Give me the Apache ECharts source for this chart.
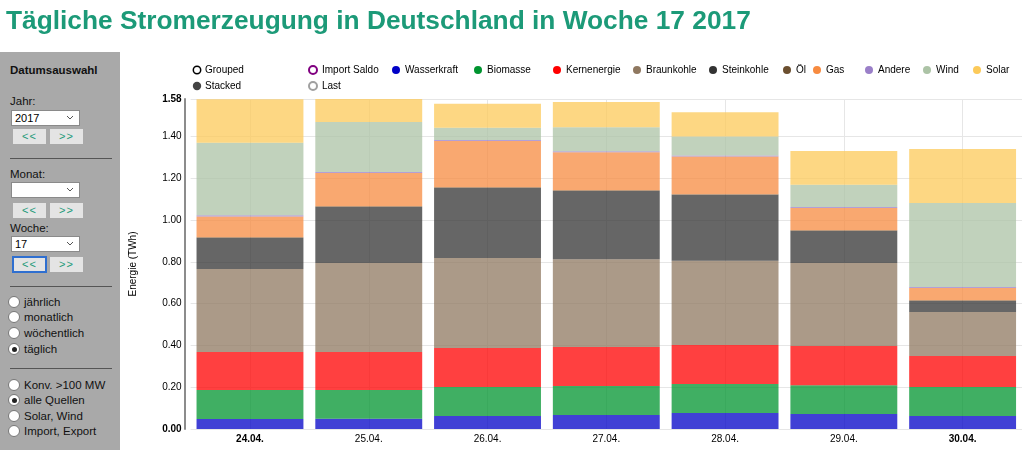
<!DOCTYPE html>
<html><head><meta charset="utf-8">
<script src="https://cdn.jsdelivr.net/npm/echarts@6/dist/echarts.min.js"></script>
<style>
html,body{margin:0;padding:0;width:1024px;height:450px;overflow:hidden;background:#fff;font-family:"Liberation Sans",Arial,sans-serif;}
#chart{position:absolute;left:0;top:0;width:1024px;height:450px;}
#title{position:absolute;left:6px;top:7px;font-size:26.3px;line-height:26px;font-weight:bold;color:#1c9a78;white-space:nowrap;z-index:2}
#panel{position:absolute;left:0;top:52px;width:120px;height:398px;background:#a9a9a9;z-index:2;font-size:11.5px;color:#111;}
.t{position:absolute;left:10px;line-height:14px;white-space:nowrap}
.sel{position:absolute;left:11px;width:64px;height:14px;background:#fff;border:1px solid #8a8a8a;font-size:11px;line-height:14px;padding-left:3px;color:#000}
.sel svg{position:absolute;right:5px;top:4px}
.btn{position:absolute;width:33px;height:15px;background:#e4e4e4;color:#1c9a78;font-size:11px;line-height:15px;text-align:center;letter-spacing:1px}
.btn.focus{border:2px solid #2f6fd0;width:31px;height:13px;line-height:13px;background:#e4e4e4}
.hr{position:absolute;left:10px;width:102px;height:1px;background:#555}
.radio{position:absolute;left:8px;width:10px;height:10px;border-radius:50%;background:#fff;border:1px solid #777}
.radio.on::after{content:"";position:absolute;left:2.5px;top:2.5px;width:5px;height:5px;border-radius:50%;background:#222}
.rl{position:absolute;left:24px;line-height:14px;font-size:11.5px;white-space:nowrap}
</style>
</head>
<body>
<div id="chart"></div>
<div id="title">Tägliche Stromerzeugung in Deutschland in Woche 17 2017</div>
<div id="panel">
  <div class="t" style="top:11px;font-weight:bold">Datumsauswahl</div>
  <div class="t" style="top:42px">Jahr:</div>
  <div class="sel" style="top:58px">2017<svg width="8" height="6"><polyline points="1,1 4,4 7,1" fill="none" stroke="#555" stroke-width="1"/></svg></div>
  <div class="btn" style="top:77px;left:13px">&lt;&lt;</div>
  <div class="btn" style="top:77px;left:50px">&gt;&gt;</div>
  <div class="hr" style="top:106px"></div>
  <div class="t" style="top:115px">Monat:</div>
  <div class="sel" style="top:130px"><svg width="8" height="6"><polyline points="1,1 4,4 7,1" fill="none" stroke="#555" stroke-width="1"/></svg></div>
  <div class="btn" style="top:151px;left:13px">&lt;&lt;</div>
  <div class="btn" style="top:151px;left:50px">&gt;&gt;</div>
  <div class="t" style="top:169px">Woche:</div>
  <div class="sel" style="top:184px">17<svg width="8" height="6"><polyline points="1,1 4,4 7,1" fill="none" stroke="#555" stroke-width="1"/></svg></div>
  <div class="btn focus" style="top:204px;left:12px">&lt;&lt;</div>
  <div class="btn" style="top:205px;left:50px">&gt;&gt;</div>
  <div class="hr" style="top:234px"></div>
  <div class="radio" style="top:244px"></div><div class="rl" style="top:243px">jährlich</div>
  <div class="radio" style="top:259px"></div><div class="rl" style="top:258px">monatlich</div>
  <div class="radio" style="top:275px"></div><div class="rl" style="top:274px">wöchentlich</div>
  <div class="radio on" style="top:291px"></div><div class="rl" style="top:290px">täglich</div>
  <div class="hr" style="top:316px"></div>
  <div class="radio" style="top:327px"></div><div class="rl" style="top:326px">Konv. &gt;100 MW</div>
  <div class="radio on" style="top:342px"></div><div class="rl" style="top:341px">alle Quellen</div>
  <div class="radio" style="top:358px"></div><div class="rl" style="top:357px">Solar, Wind</div>
  <div class="radio" style="top:373px"></div><div class="rl" style="top:372px">Import, Export</div>
</div>
<script>
// ---- data ----
const categories = ['24.04.', '25.04.', '26.04.', '27.04.', '28.04.', '29.04.', '30.04.'];
const wasserkraft = [0.048, 0.049, 0.062, 0.067, 0.077, 0.072, 0.062];
const biomasse    = [0.139, 0.138, 0.139, 0.139, 0.139, 0.138, 0.139];
const kernenergie = [0.182, 0.182, 0.187, 0.187, 0.186, 0.187, 0.149];
const braunkohle  = [0.397, 0.426, 0.431, 0.420, 0.403, 0.398, 0.210];
const steinkohle  = [0.149, 0.268, 0.335, 0.327, 0.316, 0.153, 0.053];
const oel         = [0.003, 0.003, 0.003, 0.003, 0.003, 0.003, 0.003];
const gas         = [0.100, 0.160, 0.222, 0.182, 0.181, 0.107, 0.059];
const andere      = [0.005, 0.005, 0.005, 0.005, 0.005, 0.005, 0.005];
const wind        = [0.347, 0.239, 0.058, 0.115, 0.091, 0.106, 0.402];
const solar       = [0.209, 0.110, 0.115, 0.121, 0.115, 0.162, 0.259];
const yMax = 1.58;
const yInterval = 0.2;
const yAxisTitle = 'Energie (TWh)';

// ---- styling ----
const FONT = '"Liberation Sans", Arial, sans-serif';
const stackSeries = [
  ['Wasserkraft', wasserkraft, '#0000c7'],
  ['Biomasse', biomasse, '#00942f'],
  ['Kernenergie', kernenergie, '#ff0000'],
  ['Braunkohle', braunkohle, '#8f7860'],
  ['Steinkohle', steinkohle, '#333333'],
  ['Öl', oel, '#6b4f2f'],
  ['Gas', gas, '#f78b40'],
  ['Andere', andere, '#9a7fc8'],
  ['Wind', wind, '#acc3a6'],
  ['Solar', solar, '#fcca5a']
];
const legendItems = [
  {name: 'Import Saldo', icon: 'emptyCircle', x: 308, y: 65},
  {name: 'Wasserkraft', x: 392, y: 65},
  {name: 'Biomasse', x: 474, y: 65},
  {name: 'Kernenergie', x: 553, y: 65},
  {name: 'Braunkohle', x: 633, y: 65},
  {name: 'Steinkohle', x: 709, y: 65},
  {name: 'Öl', x: 783, y: 65},
  {name: 'Gas', x: 813, y: 65},
  {name: 'Andere', x: 865, y: 65},
  {name: 'Wind', x: 923, y: 65},
  {name: 'Solar', x: 973, y: 65},
  {name: 'Last', icon: 'emptyCircle', x: 308, y: 81}
];

const series = stackSeries.map(([name, values, color]) => ({
  name, type: 'bar', stack: 'total', data: values,
  barCategoryGap: '10%',
  itemStyle: {color, opacity: 0.75}
}));
series.push({name: 'Import Saldo', type: 'line', data: [], itemStyle: {color: '#800080'}});
series.push({name: 'Last', type: 'line', data: [], itemStyle: {color: '#a0a0a0'}});

const legends = legendItems.map(it => ({
  data: [{name: it.name, icon: it.icon || 'circle'}],
  left: it.x, top: it.y,
  itemWidth: 8, itemHeight: 8, padding: 0,
  itemStyle: {opacity: 1},
  textStyle: {fontSize: 10, color: '#000', fontFamily: FONT},
  selectedMode: false
}));

const chart = echarts.init(document.getElementById('chart'), null, {renderer: 'canvas'});
chart.setOption({
  animation: false,
  textStyle: {fontFamily: FONT},
  legend: legends,
  graphic: [
    {type: 'circle', shape: {cx: 197, cy: 70, r: 3.7}, style: {fill: '#fff', stroke: '#000', lineWidth: 1.5}},
    {type: 'text', x: 205, y: 70, style: {text: 'Grouped', fontSize: 10, fill: '#000', fontFamily: FONT, verticalAlign: 'middle'}},
    {type: 'circle', shape: {cx: 197, cy: 86, r: 4.2}, style: {fill: '#444'}},
    {type: 'text', x: 205, y: 86, style: {text: 'Stacked', fontSize: 10, fill: '#000', fontFamily: FONT, verticalAlign: 'middle'}}
  ],
  grid: {left: 190.6, right: 2, top: 99, bottom: 21, containLabel: false},
  xAxis: {
    type: 'category', data: categories,
    axisLine: {show: false}, axisTick: {show: false},
    splitLine: {show: true, alignWithLabel: true, lineStyle: {color: '#e6e6e6', width: 1}},
    axisLabel: {
      margin: 5, fontSize: 10, color: '#000',
      formatter: (v, i) => (i === 0 || i === categories.length - 1) ? '{b|' + v + '}' : v,
      rich: {b: {fontWeight: 'bold', fontSize: 10, color: '#000'}}
    }
  },
  yAxis: {
    type: 'value', min: 0, max: yMax, interval: yInterval, offset: 6,
    name: yAxisTitle, nameLocation: 'middle', nameGap: 46, nameRotate: 90,
    nameTextStyle: {fontSize: 10, color: '#000'},
    axisLine: {show: true, lineStyle: {color: '#8c8c8c', width: 2}},
    axisTick: {show: false},
    splitLine: {lineStyle: {color: '#e6e6e6', width: 1}},
    axisLabel: {
      margin: 3, fontSize: 10, color: '#000', showMaxLabel: true,
      formatter: v => (v === 0 || Math.abs(v - yMax) < 1e-9) ? '{b|' + v.toFixed(2) + '}' : v.toFixed(2),
      rich: {b: {fontWeight: 'bold', fontSize: 10, color: '#000'}}
    }
  },
  series
});
</script>
</body></html>
